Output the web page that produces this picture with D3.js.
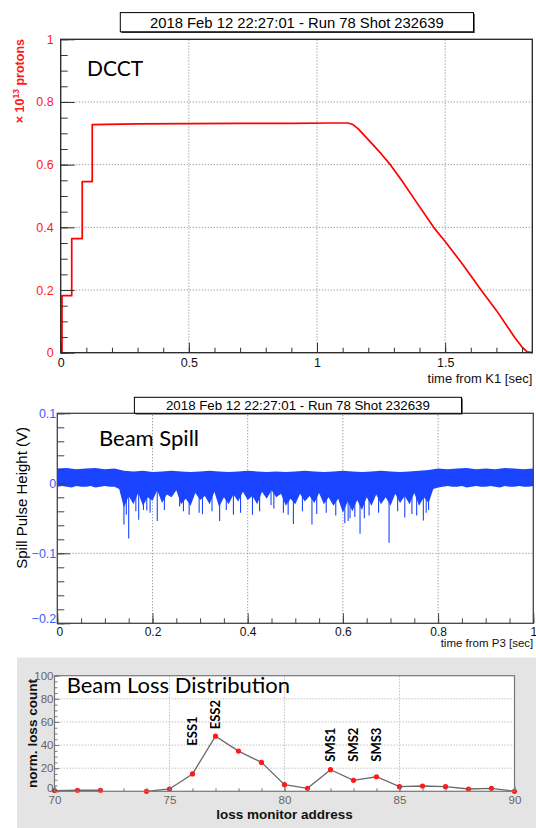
<!DOCTYPE html>
<html><head><meta charset="utf-8">
<script src="https://cdn.jsdelivr.net/npm/d3@7"></script>
<style>body{margin:0;background:#fff}svg{display:block}</style>
</head><body><svg id="c" width="536" height="828"></svg>
<script>
// ---------- DATA ----------
const titleText = "2018 Feb 12 22:27:01 - Run 78 Shot 232639";

// Panel 1: DCCT (time from K1 [sec], x10^13 protons)
const dcctTime  = [0, 0.005, 0.005, 0.043, 0.043, 0.084, 0.084, 0.123, 0.123, 0.3, 0.5, 0.7, 0.9, 1.05, 1.12, 1.14, 1.16, 1.2, 1.25, 1.286, 1.33, 1.38, 1.455, 1.5, 1.57, 1.64, 1.70, 1.77, 1.80, 1.82, 1.84];
const dcctValue = [0, 0, 0.182, 0.182, 0.364, 0.364, 0.546, 0.546, 0.728, 0.730, 0.731, 0.732, 0.732, 0.733, 0.733, 0.728, 0.715, 0.68, 0.635, 0.6, 0.55, 0.49, 0.4, 0.355, 0.28, 0.2, 0.135, 0.05, 0.018, 0.003, 0];
const dcctXTicks = [0, 0.5, 1, 1.5];
const dcctYTicks = [0, 0.2, 0.4, 0.6, 0.8, 1];

// Panel 2: Beam spill (time from P3 [sec], V)
// upper edge of the signal band, sampled every 0.02 s from 0 to 1
const spillUpper = [0.021,0.022,0.020,0.021,0.022,0.020,0.021,0.018,0.017,0.018,
  0.016,0.017,0.018,0.017,0.016,0.017,0.018,0.017,0.016,0.017,
  0.018,0.017,0.016,0.017,0.016,0.017,0.018,0.017,0.016,0.017,
  0.018,0.017,0.016,0.017,0.018,0.017,0.016,0.017,0.018,0.019,
  0.021,0.020,0.021,0.022,0.020,0.021,0.020,0.022,0.021,0.020,0.021];
// lower edge of the dense band, sampled every 0.01 s from 0 to 1
const spillLower = [-0.005,-0.004,-0.005,-0.006,-0.004,-0.005,-0.005,-0.004,-0.006,-0.005,-0.004,-0.005,-0.005,
  -0.008,
  -0.035,-0.018,-0.03,-0.014,-0.032,-0.02,-0.025,-0.01,-0.028,-0.016,
  -0.02,-0.01,-0.03,-0.022,-0.032,-0.014,-0.024,-0.018,-0.03,-0.012,
  -0.034,-0.02,-0.03,-0.016,-0.026,-0.012,-0.024,-0.018,-0.03,-0.012,
  -0.022,-0.01,-0.02,-0.015,-0.032,-0.022,-0.03,-0.015,-0.026,-0.018,
  -0.028,-0.014,-0.03,-0.02,-0.032,-0.022,-0.042,-0.026,-0.04,-0.024,
  -0.038,-0.02,-0.032,-0.016,-0.03,-0.02,-0.032,-0.015,-0.028,-0.018,
  -0.03,-0.014,-0.032,-0.02,-0.028,-0.008,
  -0.006,-0.005,-0.004,-0.005,-0.005,-0.004,-0.006,-0.005,-0.004,-0.005,-0.005,-0.004,-0.005,-0.006,-0.004,-0.005,-0.005,-0.004,-0.005,-0.005,-0.004];
// isolated deep negative spikes
const spikeTime  = [0.140,0.145,0.150,0.165,0.171,0.181,0.188,0.195,0.210,0.225,0.257,0.265,0.277,0.298,0.305,0.325,0.341,0.355,0.370,0.385,0.410,0.425,0.449,0.455,0.475,0.485,0.496,0.515,0.535,0.545,0.565,0.585,0.604,0.611,0.615,0.625,0.636,0.645,0.655,0.675,0.697,0.715,0.730,0.745,0.755,0.769,0.775,0.780];
const spikeValue = [-0.059,-0.045,-0.079,-0.040,-0.052,-0.038,-0.039,-0.042,-0.054,-0.038,-0.033,-0.040,-0.045,-0.042,-0.044,-0.040,-0.054,-0.038,-0.045,-0.042,-0.045,-0.040,-0.031,-0.036,-0.042,-0.045,-0.058,-0.040,-0.059,-0.044,-0.042,-0.046,-0.057,-0.054,-0.050,-0.048,-0.072,-0.050,-0.046,-0.042,-0.085,-0.040,-0.049,-0.044,-0.046,-0.053,-0.042,-0.038];
const spillXTicks = [0, 0.2, 0.4, 0.6, 0.8, 1];
const spillYTicks = [-0.2, -0.1, 0, 0.1];

// Panel 3: Beam loss distribution
const lossAddress = [70,71,72,73,74,75,76,77,78,79,80,81,82,83,84,85,86,87,88,89,90];
const lossCount   = [0.6,0.9,0.9,null,0,2,15,47.7,34.8,25,5.7,2.6,18.7,9.5,12.6,4,4.6,4,2,2.6,0];
const lossLabels  = ["ESS1","ESS2","SMS1","SMS2","SMS3"];
const lossLabelAt = [76,77,82,83,84];
const lossXTicks = [70,75,80,85,90];
const lossYTicks = [0,20,40,60,80,100];

// ---------- DRAW ----------
const svg = d3.select("#c");
svg.append("rect").attr("width",536).attr("height",828).attr("fill","#fff");
const HEL = "'Liberation Sans', Arial, Helvetica, sans-serif";
const CAL = "Lato, 'Open Sans', sans-serif";

function styleAxis(g, tickColor, textColor, fontSize, fontWeight) {
  g.select(".domain").remove();
  g.attr("font-family", HEL).attr("font-size", fontSize);
  g.selectAll("line").attr("stroke", tickColor).attr("stroke-width", 1);
  g.selectAll("text").attr("fill", textColor).attr("font-weight", fontWeight || "normal");
  return g;
}
function grid(xs, ys, xv, yv, color, dash) {
  const g = svg.append("g");
  xv.forEach(v => g.append("line").attr("x1", xs(v)).attr("x2", xs(v))
    .attr("y1", ys.range()[0]).attr("y2", ys.range()[1])
    .attr("stroke", color).attr("stroke-width", 0.9).attr("stroke-dasharray", dash));
  yv.forEach(v => g.append("line").attr("y1", ys(v)).attr("y2", ys(v))
    .attr("x1", xs.range()[0]).attr("x2", xs.range()[1])
    .attr("stroke", color).attr("stroke-width", 0.9).attr("stroke-dasharray", dash));
}
function titleBox(x, y, w, h, fs) {
  svg.append("rect").attr("x", x + 1.2).attr("y", y + 1.2).attr("width", w).attr("height", h).attr("fill", "#333");
  svg.append("rect").attr("x", x).attr("y", y).attr("width", w).attr("height", h)
    .attr("fill", "#fff").attr("stroke", "#000").attr("stroke-width", 1);
  svg.append("text").attr("x", x + w / 2).attr("y", y + h / 2 + fs * 0.36)
    .attr("text-anchor", "middle").attr("font-family", HEL).attr("font-size", fs)
    .attr("fill", "#000").text(titleText);
}

// ===== Panel 1 =====
const x1 = d3.scaleLinear().domain([0, 1.84]).range([60.7, 532.3]);
const y1 = d3.scaleLinear().domain([0, 1]).range([352.7, 39.3]);
grid(x1, y1, dcctXTicks.slice(1), dcctYTicks.slice(1, -1), "#888", "1.2,1.8");
const dcctPts = dcctTime.map((t, i) => [t, dcctValue[i]]);
svg.append("path").datum(dcctPts)
  .attr("d", d3.line().x(d => x1(d[0])).y(d => y1(d[1])))
  .attr("fill", "none").attr("stroke", "#ff0000").attr("stroke-width", 1.7).attr("stroke-linejoin", "round");
svg.append("rect").attr("x", x1.range()[0]).attr("y", y1.range()[1])
  .attr("width", x1.range()[1] - x1.range()[0]).attr("height", y1.range()[0] - y1.range()[1])
  .attr("fill", "none").attr("stroke", "#222").attr("stroke-width", 1.3);
styleAxis(svg.append("g").attr("transform", `translate(${x1.range()[0]},0)`)
  .call(d3.axisLeft(y1).tickValues(d3.range(0, 1.001, 0.05)).tickSize(-7).tickFormat("")), "#333", "#f00", 12.5);
styleAxis(svg.append("g").attr("transform", `translate(${x1.range()[0]},0)`)
  .call(d3.axisLeft(y1).tickValues(dcctYTicks).tickSize(-14).tickPadding(7).tickFormat(d3.format("~g"))), "#333", "#ff1a1a", 12.5);
styleAxis(svg.append("g").attr("transform", `translate(0,${y1.range()[0]})`)
  .call(d3.axisBottom(x1).tickValues(d3.range(0, 1.84, 0.1)).tickSize(-5).tickFormat("")), "#333", "#000", 12.5);
styleAxis(svg.append("g").attr("transform", `translate(0,${y1.range()[0]})`)
  .call(d3.axisBottom(x1).tickValues(dcctXTicks).tickSize(-10).tickPadding(5).tickFormat(d3.format("~g"))), "#333", "#111", 12.5);
svg.append("text").attr("x", 532.3).attr("y", 383).attr("text-anchor", "end")
  .attr("font-family", HEL).attr("font-size", 13).attr("fill", "#111").text("time from K1 [sec]");
const yl1 = svg.append("text").attr("transform", "translate(24,39) rotate(-90)").attr("text-anchor", "end")
  .attr("font-family", HEL).attr("font-size", 12.5).attr("font-weight", "bold").attr("fill", "#ff1a1a");
yl1.append("tspan").text("× 10");
yl1.append("tspan").attr("font-size", 8.5).attr("dy", -5).text("13");
yl1.append("tspan").attr("dy", 5).text(" protons");
svg.append("text").attr("x", 87).attr("y", 76).attr("font-family", CAL).attr("font-size", 21)
  .attr("fill", "#000").text("DCCT");
titleBox(120.3, 12.6, 353.2, 19.2, 14.8);

// ===== Panel 2 =====
const x2 = d3.scaleLinear().domain([0, 1]).range([57.3, 533.3]);
const y2 = d3.scaleLinear().domain([-0.2, 0.1]).range([623.3, 413.3]);
grid(x2, y2, spillXTicks.slice(1, -1), [-0.1, 0], "#888", "1.2,1.8");
const blue = "#1a44ff";
svg.append("path").datum(spillUpper)
  .attr("d", d3.area().x((d, i) => x2(i * 0.02)).y0(y2(0)).y1(d => y2(d)))
  .attr("fill", blue);
svg.append("path").datum(spillLower)
  .attr("d", d3.area().x((d, i) => x2(i * 0.01)).y0(y2(0.002)).y1(d => y2(d)))
  .attr("fill", blue);
svg.append("g").selectAll("line").data(spikeTime).join("line")
  .attr("x1", d => x2(d)).attr("x2", d => x2(d))
  .attr("y1", y2(0)).attr("y2", (d, i) => y2(spikeValue[i]))
  .attr("stroke", blue).attr("stroke-width", 1.1);
svg.append("rect").attr("x", x2.range()[0]).attr("y", y2.range()[1])
  .attr("width", x2.range()[1] - x2.range()[0]).attr("height", y2.range()[0] - y2.range()[1])
  .attr("fill", "none").attr("stroke", "#444").attr("stroke-width", 1.3);
styleAxis(svg.append("g").attr("transform", `translate(${x2.range()[0]},0)`)
  .call(d3.axisLeft(y2).tickValues(d3.range(-0.2, 0.1001, 0.02)).tickSize(-7).tickFormat("")), "#444", "#36f", 12.5);
const ax2y = styleAxis(svg.append("g").attr("transform", `translate(${x2.range()[0]},0)`)
  .call(d3.axisLeft(y2).tickValues(spillYTicks).tickSize(-13).tickPadding(1).tickFormat(d3.format("~g"))), "#444", "#3a5cff", 12.5);
ax2y.selectAll("text").filter(d => d === -0.2).attr("dy", "-0.05em");
styleAxis(svg.append("g").attr("transform", `translate(0,${y2.range()[0]})`)
  .call(d3.axisBottom(x2).tickValues(d3.range(0, 1.001, 0.05)).tickSize(-5).tickFormat("")), "#444", "#111", 12);
const ax2x = styleAxis(svg.append("g").attr("transform", `translate(0,${y2.range()[0]})`)
  .call(d3.axisBottom(x2).tickValues(spillXTicks).tickSize(-10).tickPadding(4).tickFormat(d3.format("~g"))), "#444", "#111", 12);
ax2x.selectAll("text").filter(d => d === 0).attr("x", 2);
svg.append("text").attr("x", 533.3).attr("y", 647).attr("text-anchor", "end")
  .attr("font-family", HEL).attr("font-size", 11.5).attr("fill", "#111").text("time from P3 [sec]");
svg.append("text").attr("transform", "translate(27,427) rotate(-90)").attr("text-anchor", "end")
  .attr("font-family", HEL).attr("font-size", 15).attr("fill", "#000").text("Spill Pulse Height (V)");
svg.append("text").attr("x", 99).attr("y", 446).attr("font-family", CAL).attr("font-size", 22)
  .attr("fill", "#000").text("Beam Spill");
titleBox(134.4, 397.3, 327.1, 16, 13.3);

// ===== Panel 3 =====
svg.append("rect").attr("x", 17).attr("y", 657.5).attr("width", 519).attr("height", 170.5).attr("fill", "#e4e4e4");
const x3 = d3.scaleLinear().domain([70, 90]).range([54.5, 514.5]);
const y3 = d3.scaleLinear().domain([0, 100]).range([791.3, 675.7]);
svg.append("rect").attr("x", x3.range()[0]).attr("y", y3.range()[1])
  .attr("width", x3.range()[1] - x3.range()[0]).attr("height", y3.range()[0] - y3.range()[1]).attr("fill", "#fff");
grid(x3, y3, lossXTicks.slice(1, -1), lossYTicks.slice(1, -1), "#bbb", "1.5,1.5");
const lossPts = lossAddress.map((a, i) => [a, lossCount[i]]);
svg.append("path").datum(lossPts)
  .attr("d", d3.line().defined(d => d[1] !== null).x(d => x3(d[0])).y(d => y3(d[1])))
  .attr("fill", "none").attr("stroke", "#6a6a6a").attr("stroke-width", 1.3);
svg.append("g").selectAll("circle").data(lossPts.filter(d => d[1] !== null)).join("circle")
  .attr("cx", d => x3(d[0])).attr("cy", d => y3(d[1])).attr("r", 2.6).attr("fill", "#ff1a1a");
svg.append("rect").attr("x", x3.range()[0]).attr("y", y3.range()[1])
  .attr("width", x3.range()[1] - x3.range()[0]).attr("height", y3.range()[0] - y3.range()[1])
  .attr("fill", "none").attr("stroke", "#777").attr("stroke-width", 1.2);
styleAxis(svg.append("g").attr("transform", `translate(${x3.range()[0]},0)`)
  .call(d3.axisLeft(y3).tickValues(d3.range(0, 101, 5)).tickSize(-3).tickFormat("")), "#777", "#666", 11);
const ax3y = styleAxis(svg.append("g").attr("transform", `translate(${x3.range()[0]},0)`)
  .call(d3.axisLeft(y3).tickValues(lossYTicks).tickSize(-5).tickPadding(1).tickFormat(d3.format("d"))), "#777", "#666", 11.5);
ax3y.selectAll("text").filter(d => d === 0).attr("dy", "0.05em");
styleAxis(svg.append("g").attr("transform", `translate(0,${y3.range()[0]})`)
  .call(d3.axisBottom(x3).tickValues(d3.range(70, 91, 1)).tickSize(-3).tickFormat("")), "#777", "#666", 11);
styleAxis(svg.append("g").attr("transform", `translate(0,${y3.range()[0]})`)
  .call(d3.axisBottom(x3).tickValues(lossXTicks).tickSize(-5).tickPadding(4.5).tickFormat(d3.format("d"))), "#777", "#666", 11.5);
svg.append("text").attr("x", (x3.range()[0] + x3.range()[1]) / 2).attr("y", 819).attr("text-anchor", "middle")
  .attr("font-family", HEL).attr("font-weight", "bold").attr("font-size", 13.5).attr("fill", "#111")
  .text("loss monitor address");
svg.append("text").attr("transform", `translate(36.5,${(y3.range()[0] + y3.range()[1]) / 2}) rotate(-90)`)
  .attr("text-anchor", "middle").attr("font-family", HEL).attr("font-weight", "bold").attr("font-size", 13.5)
  .attr("fill", "#111").text("norm. loss count");
const labelBase = [745.7, 729.3, 761.7, 761.7, 761.7];
lossLabels.forEach((t, i) => {
  svg.append("text").attr("transform", `translate(${x3(lossLabelAt[i]) + 4.6},${labelBase[i]}) rotate(-90)`)
    .attr("font-family", CAL).attr("font-weight", "bold").attr("font-size", 13).attr("fill", "#000").text(t);
});
svg.append("text").attr("x", 66.7).attr("y", 693).attr("font-family", CAL).attr("font-size", 22)
  .attr("fill", "#000").text("Beam Loss Distribution");
</script></body></html>
